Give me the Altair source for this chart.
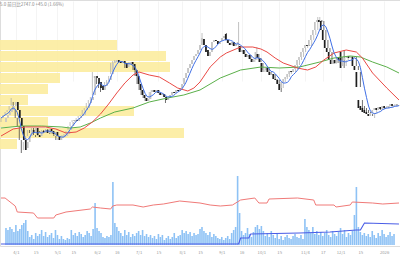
import altair as alt
import pandas as pd

# ---------------- data ----------------
N = 197
start_date = "2025-03-25"
holidays = ["2025-04-29", "2025-05-05", "2025-05-06", "2025-07-21", "2025-08-11",
            "2025-09-15", "2025-09-23", "2025-10-13", "2025-11-03", "2025-11-24",
            "2025-12-31", "2026-01-01", "2026-01-02", "2026-01-12"]

opens = [1380,1420,1450,1480,1500,1540,1580,1500,1420,1340,1200,1120,1180,1240,1300,1280,1320,1250,1240,1290,
         1280,1300,1270,1310,1290,1260,1280,1240,1200,1220,1230,1240,1260,1300,1340,1380,1400,1390,1420,1440,
         1450,1500,1520,1570,1600,1650,1840,1820,1780,1740,1700,1740,1780,1800,1860,1970,1980,2000,1980,1970,
         1990,1970,1930,1960,1980,1960,1900,1840,1760,1700,1650,1620,1590,1610,1680,1700,1680,1700,1670,1650,
         1660,1630,1600,1620,1650,1680,1670,1700,1690,1720,1760,1820,1870,1920,1960,2000,2040,2060,2100,2150,
         2210,2150,2100,2040,2080,2180,2200,2190,2160,2190,2220,2260,2200,2170,2150,2180,2140,2160,2140,2080,
         2100,2060,2030,2050,2010,1980,2000,2060,2020,1970,1880,1900,1920,1880,1850,1860,1810,1800,1760,1720,
         1780,1810,1830,1860,1890,1880,1910,1950,2000,2030,2080,2120,2150,2140,2200,2250,2300,2380,2400,2390,
         2300,2200,2120,2080,2000,1960,2000,1970,2030,2080,1940,2000,2020,2040,2020,2030,1940,1880,1600,1540,
         1520,1500,1480,1460,1440,1470,1500,1520,1500,1530,1510,1540,1520,1530,1540,1560,1540]
closes = [1420,1450,1480,1500,1540,1580,1500,1420,1340,1200,1100,1180,1240,1300,1270,1320,1250,1230,1290,1280,
          1300,1270,1310,1290,1260,1280,1240,1200,1220,1230,1250,1260,1290,1340,1380,1400,1390,1420,1440,1450,
          1500,1520,1570,1600,1630,1840,1820,1760,1720,1700,1740,1780,1800,1840,1970,1990,2000,1980,1970,1990,
          1970,1920,1960,1980,1960,1900,1840,1760,1700,1650,1620,1590,1610,1680,1700,1680,1700,1670,1650,1660,
          1630,1600,1620,1650,1680,1670,1700,1690,1720,1760,1820,1870,1920,1960,2000,2040,2060,2100,2150,2220,
          2150,2080,2040,2080,2180,2200,2190,2160,2190,2220,2240,2200,2170,2150,2180,2140,2160,2180,2080,2100,
          2060,2030,2050,2010,1980,2000,2080,2020,1980,1880,1900,1920,1880,1850,1860,1810,1800,1760,1700,1780,
          1810,1830,1860,1890,1880,1910,1950,2000,2030,2080,2120,2150,2140,2200,2250,2300,2380,2400,2380,2300,
          2200,2120,2080,2000,1960,2000,1970,2020,2000,1920,2000,2020,2040,2020,2030,1940,1900,1730,1520,1500,
          1480,1470,1460,1440,1470,1500,1520,1500,1530,1510,1540,1520,1530,1540,1560,1540,1550]
wick_highs = {5: 1620, 45: 1880, 99: 2270, 111: 2270, 117: 2380, 126: 2130, 156: 2430, 157: 2430, 169: 2100}
wick_lows = {10: 1070, 11: 1100, 49: 1680, 81: 1570, 117: 2100, 138: 1680, 184: 1420}

volumes = [170,150,180,160,130,200,140,160,200,220,250,140,80,100,60,120,90,110,150,90,
           130,80,100,120,70,150,100,60,90,60,50,70,60,150,100,120,90,130,110,80,
           100,140,120,90,160,420,170,140,120,80,70,90,80,100,630,220,180,140,120,90,
           150,100,130,80,110,90,120,140,100,150,90,110,80,100,70,90,60,110,80,100,
           50,70,90,60,80,120,70,90,100,150,120,140,110,130,90,120,100,110,160,180,
           140,120,100,130,80,110,90,70,60,80,50,70,90,60,120,150,180,690,320,140,
           100,120,170,110,80,130,180,200,160,190,140,90,120,80,140,100,70,110,60,90,
           50,80,100,70,60,90,110,80,70,100,60,260,180,150,120,180,110,140,100,130,
           90,120,150,100,80,140,110,90,130,170,110,150,80,120,100,140,300,580,180,130,
           100,120,90,110,80,140,100,70,120,90,150,110,80,100,130,90,110]

ma25_day = [0,6,12,22,27,32,37,41,45,49,53,57,61,65,68,73,78,83,87,92,95,98,103,108,111,118,
            124,128,131,135,139,146,151,155,159,164,170,175,178,183,190,196]
ma25_val = [1240,1310,1330,1330,1310,1270,1280,1320,1380,1460,1560,1670,1770,1850,1880,1850,1830,1770,
            1720,1690,1720,1780,1930,2030,2070,2130,2130,2110,2080,2020,1970,1920,1900,1930,2000,2070,
            2100,2080,2020,1870,1720,1600]
ma75_day = [0,10,20,30,34,39,44,49,56,65,73,82,90,98,108,118,128,137,147,157,164,172,177,183,190,196]
ma75_val = [1320,1340,1340,1330,1320,1330,1370,1420,1480,1520,1580,1620,1650,1700,1820,1900,1930,1920,
            1930,1980,2020,2040,2030,1980,1930,1870]

sub_red_day = [0,2,7,8,16,18,26,27,32,44,45,49,54,55,57,65,70,75,80,88,98,103,108,114,118,125,127,
               131,132,146,154,155,164,165,172,173,183,188,196]
sub_red_val = [470,470,390,330,320,270,270,300,330,360,380,370,360,390,400,400,380,400,410,440,420,400,
               390,400,450,470,420,420,460,470,450,400,400,380,400,430,420,410,420]
sub_blue_day = [0,117,118,122,123,147,162,175,177,179,196]
sub_blue_val = [10,10,70,70,110,120,130,150,150,220,210]

profile_top = [2200, 2090, 1980, 1870, 1760, 1650, 1540, 1430, 1320, 1210]
profile_bot = [2100, 1990, 1880, 1770, 1660, 1550, 1440, 1330, 1220, 1110]
profile_vol = [1170, 1660, 1700, 600, 480, 280, 1340, 480, 1840, 170]

header = "5.0 前日比2747.0 +45.0 (1.66%)"

assert len(opens) == N and len(closes) == N and len(volumes) == N

# ---------------- calendar & ticks ----------------
hol = set(pd.to_datetime(holidays))
dates = []
d = pd.Timestamp(start_date)
while len(dates) < N:
    if d.weekday() < 5 and d not in hol:
        dates.append(d)
    d += pd.Timedelta(days=1)

tick_idx, tick_lab = [], []
first_month = (dates[0].year, dates[0].month)
seen_first, seen_mid = set(), set()
for k, dt in enumerate(dates):
    key = (dt.year, dt.month)
    if key == first_month:
        continue
    if key not in seen_first:
        seen_first.add(key)
        tick_idx.append(k)
        tick_lab.append(str(dt.year) if dt.month == 1 else f"{dt.month}/{dt.day}")
    elif dt.day >= 15 and key not in seen_mid:
        seen_mid.add(key)
        tick_idx.append(k)
        tick_lab.append(str(dt.day))

label_expr = "''"
for k, lab in reversed(list(zip(tick_idx, tick_lab))):
    label_expr = f"datum.value == {k} ? '{lab}' : ({label_expr})"

# ---------------- frames ----------------
df = pd.DataFrame({"i": range(N), "date": [x.strftime("%Y-%m-%d") for x in dates],
                   "open": opens, "close": closes, "vol": volumes})
df["high"] = df[["open", "close"]].max(axis=1)
df["low"] = df[["open", "close"]].min(axis=1)
for k, v in wick_highs.items():
    df.loc[k, "high"] = v
for k, v in wick_lows.items():
    df.loc[k, "low"] = v

ma25 = pd.DataFrame({"i": ma25_day, "v": ma25_val})
ma75 = pd.DataFrame({"i": ma75_day, "v": ma75_val})
sred = pd.DataFrame({"i": sub_red_day, "v": sub_red_val})
sblue = pd.DataFrame({"i": sub_blue_day, "v": sub_blue_val})
prof = pd.DataFrame({"top": profile_top, "bot": profile_bot, "pv": profile_vol})

X_DOM = [-0.5, N - 0.5]


def xq(axis=None):
    return alt.X("i:Q", scale=alt.Scale(domain=X_DOM, nice=False, zero=False), axis=axis, title=None)


def price_y(field):
    return alt.Y(field, scale=alt.Scale(domain=[1000, 2600], range=[160, 0], nice=False, zero=False),
                 axis=None, title=None)


def sub_y(field):
    return alt.Y(field, scale=alt.Scale(domain=[0, 800], range=[245, 165], nice=False, zero=False),
                 axis=None, title=None)


up = "datum.close >= datum.open"

profile = alt.Chart(prof).transform_calculate(base="0").mark_rect(color="#fcec9f", opacity=0.9).encode(
    x=alt.X("base:Q", scale=alt.Scale(domain=[0, 4000], range=[0, 400], nice=False), axis=None),
    x2="pv:Q",
    y=price_y("top:Q"), y2="bot:Q")

main_axis = alt.Axis(values=tick_idx, labelExpr=label_expr, grid=True, gridColor="#ececec",
                     gridWidth=0.6, domain=False, ticks=False, labelFontSize=4.2, labelColor="#9a9a9a",
                     labelPadding=4, labelFont="Noto Sans CJK JP", labelBound=False, labelOverlap=False)

base = alt.Chart(df)
wick = base.mark_rule(strokeWidth=0.7).encode(
    x=xq(), y=price_y("low:Q"), y2="high:Q",
    color=alt.condition(up, alt.value("#a8a8a8"), alt.value("#333333")))
body = base.mark_bar(size=1.7).encode(
    x=xq(), y=price_y("open:Q"), y2="close:Q",
    color=alt.condition(up, alt.value("#c4c4c4"), alt.value("#1e1e1e")))

ma5_line = base.transform_window(ma5="mean(close)", frame=[-4, 0], sort=[{"field": "i"}]).mark_line(
    color="#3f6fe6", strokeWidth=1).encode(x=xq(), y=price_y("ma5:Q"))
ma25_line = alt.Chart(ma25).mark_line(color="#ea4a45", strokeWidth=1).encode(x=xq(), y=price_y("v:Q"))
ma75_line = alt.Chart(ma75).mark_line(color="#5bb04a", strokeWidth=1).encode(x=xq(), y=price_y("v:Q"))

vol_bars = base.mark_bar(size=1.6, color="#8ec2f5").encode(x=xq(main_axis), y=sub_y("vol:Q"))
red_sub = alt.Chart(sred).mark_line(color="#f07a78", strokeWidth=1).encode(x=xq(), y=sub_y("v:Q"))
blue_sub = alt.Chart(sblue).mark_line(color="#4a5de6", strokeWidth=1.1).encode(x=xq(), y=sub_y("v:Q"))

head = alt.Chart(pd.DataFrame({"t": [header]})).mark_text(
    align="left", baseline="top", fontSize=4.5, color="#888888", font="Noto Sans CJK JP").encode(
    x=alt.value(0), y=alt.value(2), text="t:N")

chart = alt.layer(profile, vol_bars, wick, body, ma75_line, ma25_line, ma5_line, red_sub, blue_sub, head
                  ).resolve_scale(x="independent", y="independent").properties(
    width=400, height=246, padding={"left": 0, "top": 0, "right": 0, "bottom": 14},
    autosize=alt.AutoSizeParams(type="none")
).configure_view(strokeWidth=0).configure(background="white")

chart.save("out.html", embed_options={"renderer": "svg", "actions": False})
